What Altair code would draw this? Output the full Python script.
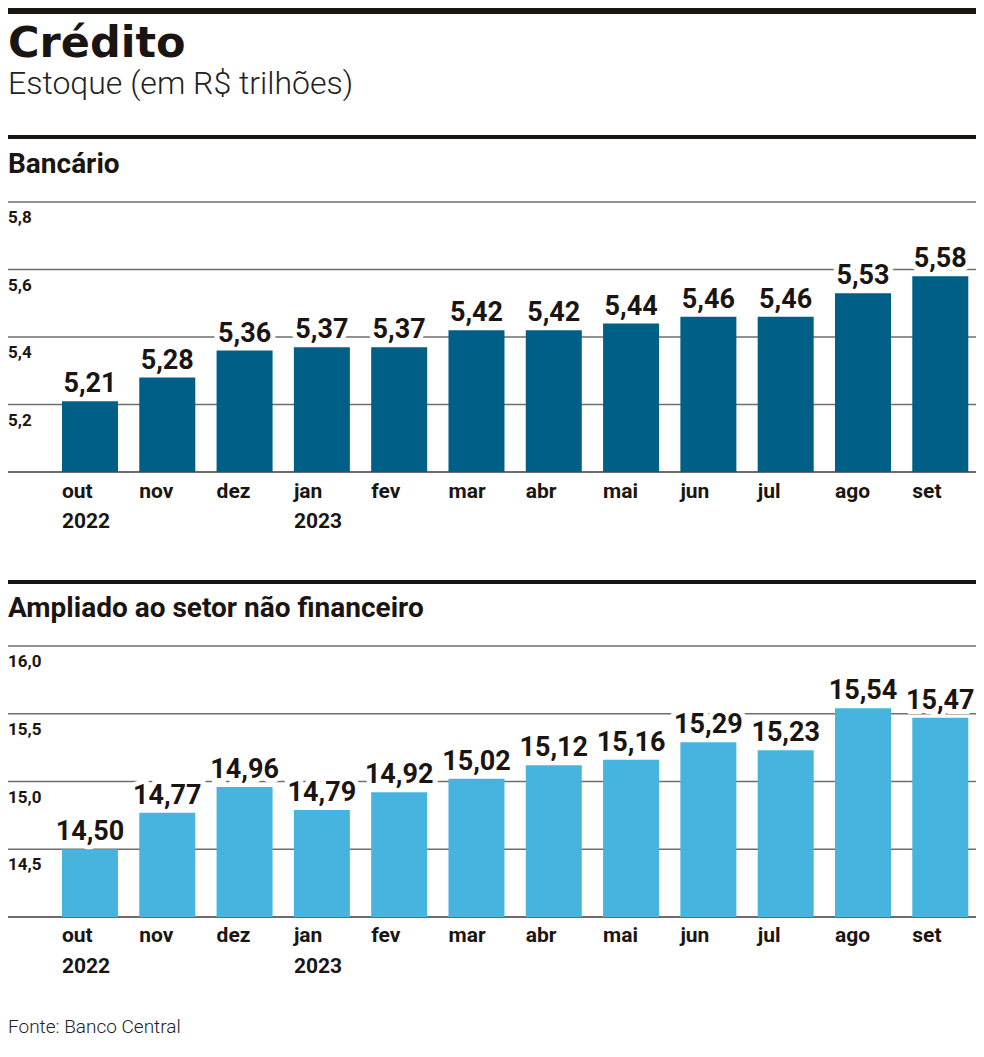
import altair as alt
import pandas as pd

# ---- data ----
months = ["out", "nov", "dez", "jan", "fev", "mar", "abr", "mai", "jun", "jul", "ago", "set"]
years = ["2022", "", "", "2023", "", "", "", "", "", "", "", ""]
bancario = [5.21, 5.28, 5.36, 5.37, 5.37, 5.42, 5.42, 5.44, 5.46, 5.46, 5.53, 5.58]
ampliado = [14.50, 14.77, 14.96, 14.79, 14.92, 15.02, 15.12, 15.16, 15.29, 15.23, 15.54, 15.47]
ticks_bancario = [5.2, 5.4, 5.6, 5.8]
ticks_ampliado = [14.5, 15.0, 15.5, 16.0]
base_bancario = [5.0]
base_ampliado = [14.0]

title = "Crédito"
subtitle = "Estoque (em R$ trilhões)"
panel1_title = "Bancário"
panel2_title = "Ampliado ao setor não financeiro"
source = "Fonte: Banco Central"

W, H = 968, 1030
DARK = "#005f87"
LIGHT = "#46b4de"
INK = "#1b1512"
GRID = "#6e6e6e"
FONT = "Roboto"

df = pd.DataFrame({"mes": months, "ano": years, "bancario": bancario, "ampliado": ampliado})
t1 = pd.DataFrame({"v": ticks_bancario})
t2 = pd.DataFrame({"v": ticks_ampliado})
b1 = pd.DataFrame({"v": base_bancario})
b2 = pd.DataFrame({"v": base_ampliado})

xscale = alt.Scale(domain=months, range=[0, W], paddingInner=0.2755, paddingOuter=0.399, align=0.875)
s1 = alt.Scale(domain=[5.0, 5.8], range=[464, 194], zero=False, nice=False)
s2 = alt.Scale(domain=[14.0, 16.0], range=[909, 638], zero=False, nice=False)

def xenc(pos):
    return alt.X("mes:N", sort=months, scale=xscale, axis=None, bandPosition=pos)

def header_text(txt, y, size, weight, color=INK, font=FONT):
    return alt.Chart(pd.DataFrame({"t": [txt]})).mark_text(
        align="left", baseline="alphabetic", fontSize=size, fontWeight=weight, font=font, color=color
    ).encode(x=alt.value(0), y=alt.value(y), text="t:N")

def thick_rule(y, w):
    return alt.Chart(pd.DataFrame({"a": [0]})).mark_rule(color=INK, strokeWidth=w).encode(
        x=alt.value(0), x2=alt.value(W), y=alt.value(y))

def panel(field, scale, ticks, base, color, y_month, y_year):
    grid = alt.Chart(ticks).mark_rule(color=GRID, strokeWidth=1.4).encode(
        y=alt.Y("v:Q", scale=scale, axis=None), x=alt.value(0), x2=alt.value(W))
    baseline = alt.Chart(base).mark_rule(color="#3a3a3a", strokeWidth=1.6).encode(
        y=alt.Y("v:Q", scale=scale, axis=None), x=alt.value(0), x2=alt.value(W))
    ticklab = alt.Chart(ticks).transform_calculate(
        lab="replace(format(datum.v, '.1f'), '.', ',')"
    ).mark_text(align="left", baseline="alphabetic", dy=21, fontSize=17, fontWeight="bold",
                font=FONT, color=INK).encode(
        y=alt.Y("v:Q", scale=scale, axis=None), x=alt.value(0), text="lab:N")
    bars = alt.Chart(df).mark_bar(color=color).encode(
        x=xenc(0.5), y=alt.Y(f"{field}:Q", scale=scale, axis=None), y2=alt.datum(base["v"][0]))
    lab_calc = f"replace(format(datum.{field}, '.2f'), '.', ',')"
    knock = alt.Chart(df).transform_calculate(lab=lab_calc).mark_text(
        align="center", baseline="alphabetic", dy=-9, fontSize=27, fontWeight="bold", font=FONT,
        color="white", stroke="white", strokeWidth=10).encode(
        x=xenc(0.5), y=alt.Y(f"{field}:Q", scale=scale, axis=None), text="lab:N")
    vals = alt.Chart(df).transform_calculate(lab=lab_calc).mark_text(
        align="center", baseline="alphabetic", dy=-9, fontSize=27, fontWeight="bold", font=FONT,
        color=INK).encode(
        x=xenc(0.5), y=alt.Y(f"{field}:Q", scale=scale, axis=None), text="lab:N")
    mlab = alt.Chart(df).mark_text(align="left", baseline="alphabetic", fontSize=21,
                                   fontWeight="bold", font=FONT, color=INK).encode(
        x=xenc(0), y=alt.value(y_month), text="mes:N")
    ylab = alt.Chart(df).mark_text(align="left", baseline="alphabetic", fontSize=21,
                                   fontWeight="bold", font=FONT, color=INK).encode(
        x=xenc(0), y=alt.value(y_year), text="ano:N")
    return [grid, baseline, ticklab, knock, bars, vals, mlab, ylab]

top_bar = alt.Chart(pd.DataFrame({"a": [0]})).mark_rect(color=INK).encode(
    x=alt.value(0), x2=alt.value(W), y=alt.value(0), y2=alt.value(6))

layers = [
    top_bar,
    header_text(title, 49, 43, "bold", font="DejaVu Sans"),
    header_text(subtitle, 86, 32, 300, color="#222222"),
    thick_rule(129, 4),
    header_text(panel1_title, 165, 28, "bold"),
    *panel("bancario", s1, t1, b1, DARK, 490, 520),
    thick_rule(574, 4),
    header_text(panel2_title, 609, 28, "bold"),
    *panel("ampliado", s2, t2, b2, LIGHT, 934, 965),
    header_text(source, 1025, 19, 300, color="#222222"),
]

chart = alt.layer(*layers).resolve_scale(y="independent").properties(
    width=W, height=H, padding=0,
    autosize=alt.AutoSizeParams(type="none"),
).configure_view(stroke=None)

chart.save("out.html", embed_options={"renderer": "svg", "actions": False})
